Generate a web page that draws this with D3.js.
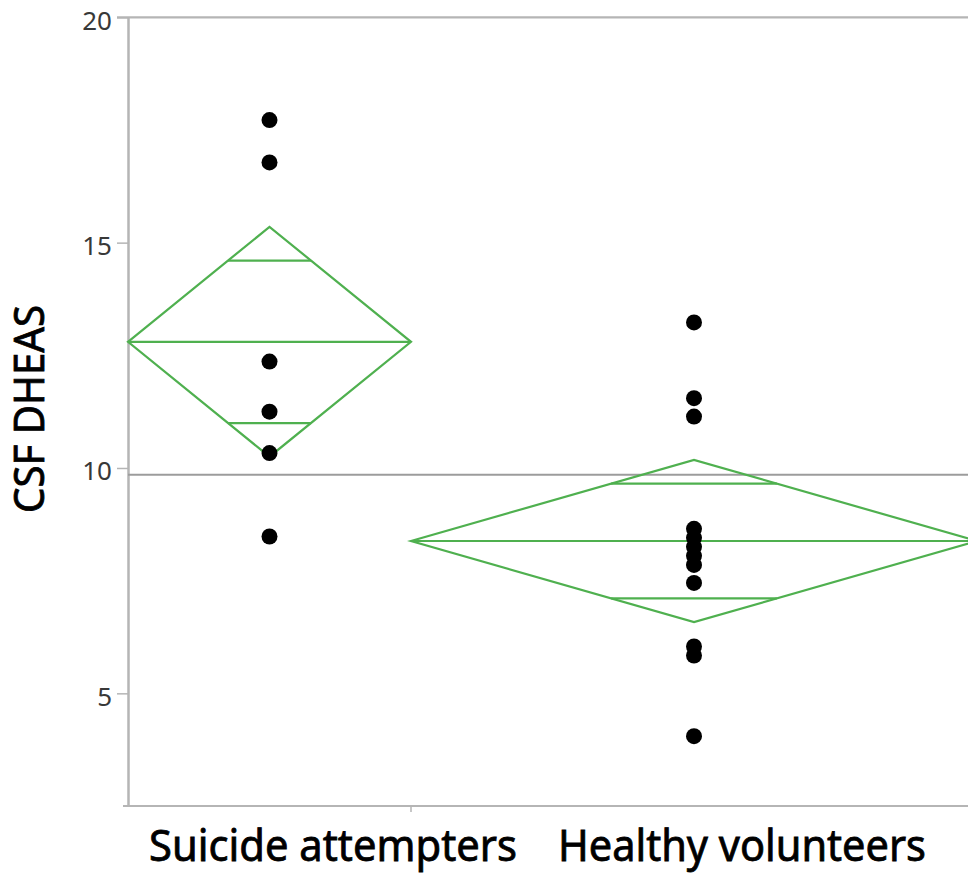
<!DOCTYPE html>
<html>
<head>
<meta charset="utf-8">
<script src="https://cdn.jsdelivr.net/npm/d3@7/dist/d3.min.js"></script>
<style>
  body { margin: 0; background: #fff; }
  svg { display: block; }
</style>
</head>
<body>
<svg id="chart" width="968" height="874"></svg>
<script>
// Group labels and CSF DHEAS measurements per subject
const groups = ["Suicide attempters", "Healthy volunteers"];
const attempters = [17.72, 16.78, 12.36, 11.25, 10.33, 8.48];
const volunteers = [13.23, 11.55, 11.14, 8.65, 8.45, 8.25, 8.05, 7.85, 7.45, 6.04, 5.84, 4.05];

// Means diamonds: group mean with 95% confidence limits
const groupMeans = [12.80, 8.38];
const ciLower = [10.25, 6.58];
const ciUpper = [15.35, 10.18];
const grandMean = 9.85;

const yTicks = [5, 10, 15, 20];
const yLabel = "CSF DHEAS";

const values = [attempters, volunteers];
const counts = values.map(v => v.length);
const total = d3.sum(counts);

const W = 968, H = 874;
const plotLeft = 128, plotTop = 17.3, plotBottom = 806;

const svg = d3.select("#chart");

const y = d3.scaleLinear().domain([2.5, 20]).range([plotBottom, plotTop]);
// Each group occupies a width proportional to its sample size
const x = d3.scaleLinear().domain([0, total]).range([plotLeft, 977]);

const starts = d3.cumsum([0, ...counts]).slice(0, counts.length);
const spans = groups.map((g, i) => ({
  x0: x(starts[i]),
  x1: x(starts[i] + counts[i]),
  xc: x(starts[i] + counts[i] / 2)
}));

const frame = "#b5b5b5";
const green = "#4fb04f";

// Frame lines
svg.append("line").attr("x1", 117).attr("x2", W).attr("y1", y(20)).attr("y2", y(20))
  .attr("stroke", frame).attr("stroke-width", 2.2);
svg.append("line").attr("x1", 123).attr("x2", W).attr("y1", y(2.5)).attr("y2", y(2.5))
  .attr("stroke", frame).attr("stroke-width", 2.2);
svg.append("line").attr("x1", spans[0].x1).attr("x2", spans[0].x1)
  .attr("y1", y(2.5)).attr("y2", y(2.5) + 6)
  .attr("stroke", frame).attr("stroke-width", 1.5);

// Y axis
const yAxis = svg.append("g")
  .attr("transform", `translate(${plotLeft},0)`)
  .call(d3.axisLeft(y).tickValues(yTicks).tickSize(11).tickSizeOuter(0).tickPadding(5));
yAxis.select(".domain").attr("stroke", frame).attr("stroke-width", 2.5);
yAxis.selectAll(".tick line").attr("stroke", frame).attr("stroke-width", 1.5);
yAxis.selectAll(".tick text")
  .attr("fill", "#383838")
  .attr("dy", "0.45em")
  .style("font-family", "'Noto Sans', 'Open Sans', sans-serif")
  .style("font-size", "26px");

// Grand mean reference line
svg.append("line").attr("x1", plotLeft).attr("x2", W)
  .attr("y1", y(grandMean)).attr("y2", y(grandMean))
  .attr("stroke", "#9c9c9c").attr("stroke-width", 2.2);

// Means diamonds with overlap marks
const diamonds = svg.append("g").attr("fill", "none").attr("stroke", green).attr("stroke-width", 2.2);
groups.forEach((g, i) => {
  const s = spans[i];
  const m = groupMeans[i], lo = ciLower[i], hi = ciUpper[i];
  const pts = [[s.x0, y(m)], [s.xc, y(hi)], [s.x1, y(m)], [s.xc, y(lo)]];
  diamonds.append("path").attr("d", d3.line()(pts) + "Z").attr("stroke-linejoin", "miter");
  diamonds.append("line").attr("x1", s.x0).attr("x2", s.x1).attr("y1", y(m)).attr("y2", y(m));
  const half = (s.x1 - s.x0) / 2;
  const f = 1 / Math.SQRT2;
  const ov = [m + (hi - m) * f, m - (m - lo) * f];
  ov.forEach(v => {
    diamonds.append("line")
      .attr("x1", s.xc - half * (1 - f)).attr("x2", s.xc + half * (1 - f))
      .attr("y1", y(v)).attr("y2", y(v));
  });
});

// Individual observations
groups.forEach((g, i) => {
  svg.append("g").selectAll("circle").data(values[i]).join("circle")
    .attr("cx", spans[i].xc)
    .attr("cy", d => y(d))
    .attr("r", 8)
    .attr("fill", "#000");
});

// Category labels
const catX = [333, 742];
svg.append("g").selectAll("text").data(groups).join("text")
  .attr("x", (d, i) => catX[i])
  .attr("y", 861)
  .attr("text-anchor", "middle")
  .attr("textLength", 368)
  .attr("lengthAdjust", "spacingAndGlyphs")
  .style("font-family", "'Noto Sans', sans-serif")
  .style("font-size", "43px")
  .attr("fill", "#000")
  .attr("stroke", "#000")
  .attr("stroke-width", 0.8)
  .text(d => d);

// Y axis title
svg.append("text")
  .attr("transform", "translate(44,409) rotate(-90)")
  .attr("text-anchor", "middle")
  .attr("textLength", 208)
  .attr("lengthAdjust", "spacingAndGlyphs")
  .style("font-family", "'Noto Sans', sans-serif")
  .style("font-size", "42px")
  .attr("fill", "#000")
  .attr("stroke", "#000")
  .attr("stroke-width", 0.8)
  .text(yLabel);
</script>
</body>
</html>
